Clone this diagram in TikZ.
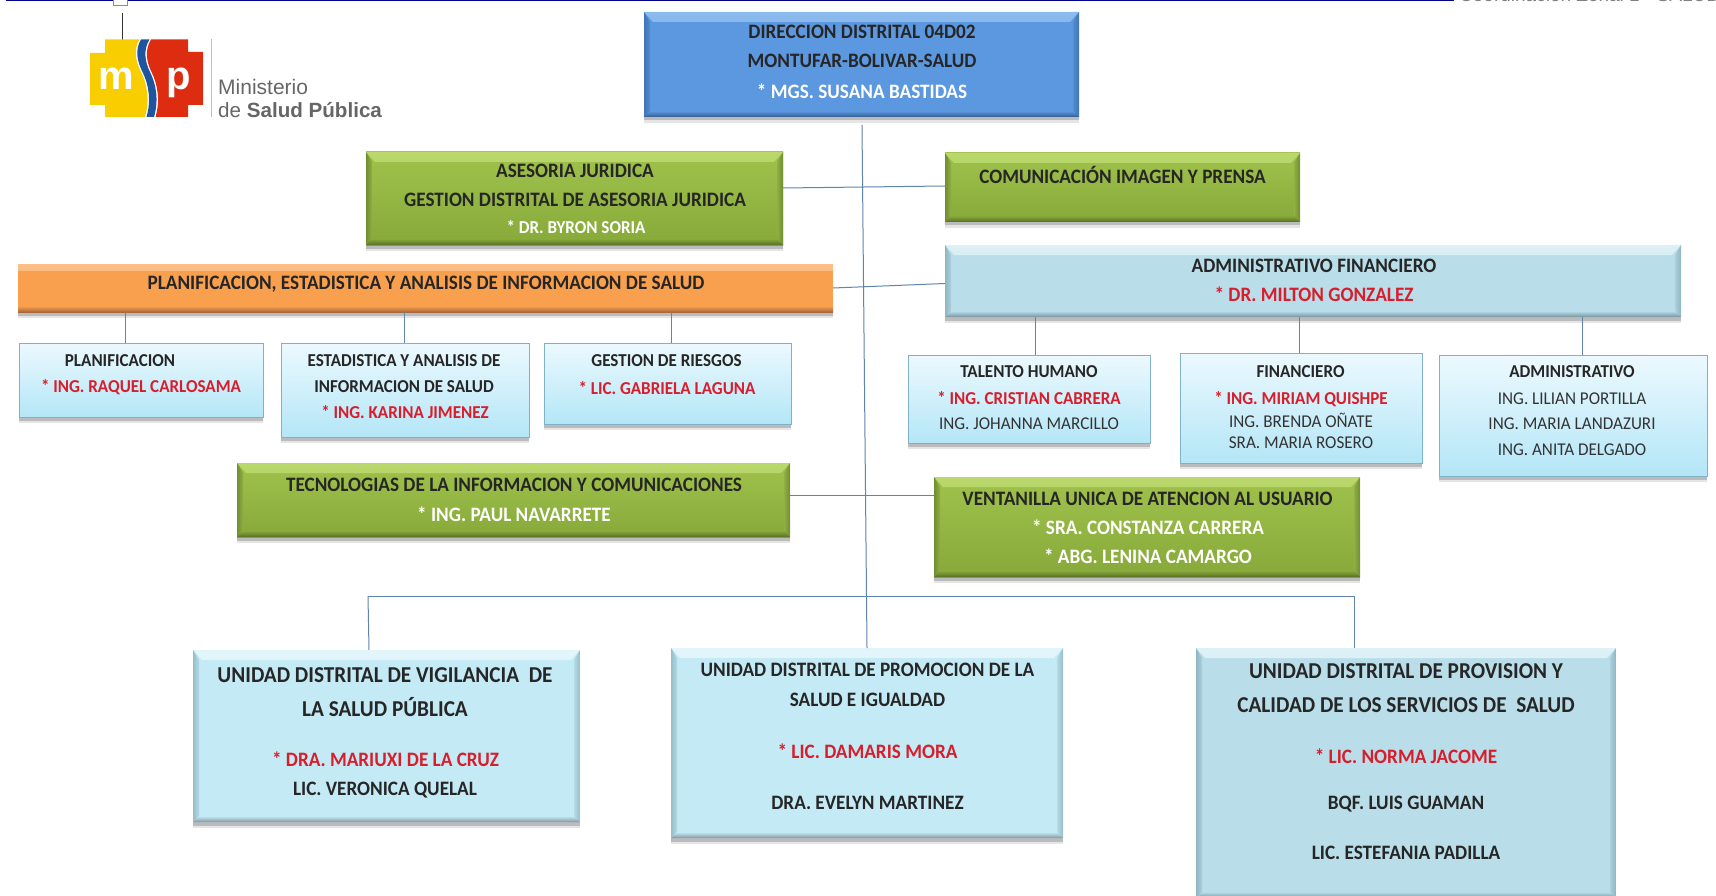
\documentclass[tikz,border=0pt]{standalone}
\usepackage{fontspec}
\setmainfont{Carlito}[BoldFont=Carlito Bold]
\newfontfamily\cond{Carlito Bold}[FakeStretch=0.936]
\newfontfamily\condreg{Carlito}[FakeStretch=0.95]
\newfontfamily\logofont{Liberation Sans}
\usetikzlibrary{shadows}
\definecolor{conn}{HTML}{5F84AE}
\definecolor{redtxt}{HTML}{D81E2C}
\definecolor{bluemain}{HTML}{5C98E0}
\definecolor{bluelight}{HTML}{8CBBEE}
\definecolor{blueside}{HTML}{4275B4}
\definecolor{bluedark}{HTML}{335C90}
\definecolor{greentop}{HTML}{BAD86C}
\definecolor{greenup}{HTML}{A0C24C}
\definecolor{greenlow}{HTML}{87A93A}
\definecolor{greenmid}{HTML}{93B543}
\definecolor{greenside}{HTML}{708E30}
\definecolor{greendark}{HTML}{566F24}
\definecolor{orangemain}{HTML}{F9A04E}
\definecolor{orangetop}{HTML}{FBC088}
\definecolor{orangedark}{HTML}{A9683A}
\definecolor{palemain}{HTML}{B9DEE9}
\definecolor{palelight}{HTML}{DDF1F6}
\definecolor{paleside}{HTML}{8FB6C3}
\definecolor{paledark}{HTML}{76959F}
\definecolor{cyanmain}{HTML}{C4EAF5}
\definecolor{cyanlight}{HTML}{E2F5FA}
\definecolor{cyanside}{HTML}{97BDCA}
\definecolor{cyandark}{HTML}{7F9BA5}
\definecolor{gradtop}{HTML}{ECF9FE}
\definecolor{gradbot}{HTML}{B4E6F7}
\definecolor{gradline}{HTML}{7FB2C6}
\definecolor{logoyel}{HTML}{F8CE00}
\definecolor{logoblu}{HTML}{1F559F}
\definecolor{logored}{HTML}{DE2C10}
\tikzset{
  x=1pt,y=-1pt,
  box/.style={draw=none,inner sep=0pt,outer sep=0pt,anchor=north west,
    drop shadow={shadow xshift=0pt,shadow yshift=-6pt,opacity=.10,fill=black},
    drop shadow={shadow xshift=0pt,shadow yshift=-3.5pt,opacity=.18,fill=black}},
  bevel/.style n args={5}{path picture={
    \shade[top color=#1,bottom color=#4] (path picture bounding box.north west) -- (path picture bounding box.north east)
      -- ++(-9pt,-10pt) -- ([xshift=9pt,yshift=-10pt]path picture bounding box.north west) -- cycle;
    \shade[left color=#2,right color=#2!35!#4] (path picture bounding box.north west) -- (path picture bounding box.south west)
      -- ++(6pt,6pt) -- ([xshift=6pt,yshift=-10pt]path picture bounding box.north west) -- cycle;
    \shade[left color=#2!35!#4,right color=#2] (path picture bounding box.north east) -- (path picture bounding box.south east)
      -- ++(-6pt,6pt) -- ([xshift=-6pt,yshift=-10pt]path picture bounding box.north east) -- cycle;
    \shade[top color=#5,bottom color=#3] (path picture bounding box.south west) -- (path picture bounding box.south east)
      -- ++(-6pt,6pt) -- ([xshift=6pt,yshift=6pt]path picture bounding box.south west) -- cycle;
  }},
  bluebox/.style={box,fill=bluemain,bevel={bluelight}{blueside}{bluedark}{bluemain}{bluemain}},
  greenbox/.style={box,top color=greenup,bottom color=greenlow,bevel={greentop}{greenside}{greendark}{greenup}{greenlow}},
  orangebox/.style={box,fill=orangemain,path picture={
    \shade[top color=orangetop,bottom color=orangemain] (path picture bounding box.north west) rectangle ([yshift=-6pt]path picture bounding box.north east);
    \shade[top color=orangemain,bottom color=orangedark] ([yshift=6pt]path picture bounding box.south west) rectangle (path picture bounding box.south east);}},
  palebox/.style={box,fill=palemain,bevel={palelight}{paleside}{paledark}{palemain}{palemain}},
  cyanbox/.style={box,fill=cyanmain,bevel={cyanlight}{cyanside}{cyandark}{cyanmain}{cyanmain}},
  gradbox/.style={box,draw=gradline,line width=1pt,top color=gradtop,bottom color=gradbot},
  tb/.style={inner sep=0pt,font=\cond\fontsize{20.5}{20}\selectfont,text=black!85},
  ts/.style={inner sep=0pt,font=\cond\fontsize{18.2}{18}\selectfont,text=black!85},
  tr/.style={inner sep=0pt,font=\condreg\fontsize{18}{18}\selectfont,text=black!80},
  tg/.style={inner sep=0pt,font=\cond\fontsize{22.7}{22}\selectfont,text=black!85},
  wh/.style={text=white},
  rd/.style={text=redtxt},
  link/.style={draw=conn,line width=1pt},
}
\begin{document}
\begin{tikzpicture}
\useasboundingbox (0,0) rectangle (1716,896);
\fill[white] (0,0) rectangle (1716,896);
% top rule and cut-off header
\fill[blue!55!black] (6,0) rectangle (1454,1.5);
\node[inner sep=0pt,anchor=base west,text=black!50,font=\logofont\fontsize{19}{19}\selectfont] (head) at (1459,2) {Coordinación Zonal 1 - SALUD};
% logo
\fill[white,draw=black!45,line width=.6pt] (113,-2) rectangle (127,5);
\draw[black!80,line width=1pt] (122.7,13) -- (122.7,41);
\fill[logoyel] (105,39.5) -- (139.5,39.5) .. controls (133,50) and (136,62) .. (141,72) .. controls (147,84) and (150,100) .. (145,117) -- (105,117) -- (105,105) -- (90,105) -- (90,53) -- (105,53) -- cycle;
\fill[logoblu] (141,39.5) -- (149.5,39.5) .. controls (143,50) and (145,62) .. (150,72) .. controls (156,84) and (159,100) .. (154,117) -- (146.5,117) .. controls (151.5,100) and (148.5,84) .. (142.5,72) .. controls (137.5,62) and (134.5,50) .. (141,39.5) -- cycle;
\fill[logored] (151,39.5) -- (188,39.5) -- (188,52) -- (203,52) -- (203,105) -- (188,105) -- (188,117) -- (155.5,117) .. controls (160.5,100) and (157.5,84) .. (151.5,72) .. controls (146.5,62) and (144.5,50) .. (151,39.5) -- cycle;
\node[inner sep=0pt,anchor=base,text=white,font=\logofont\bfseries\fontsize{40}{40}\selectfont] (lm) at (116,90) {m};
\node[inner sep=0pt,anchor=base,text=white,font=\logofont\bfseries\fontsize{40}{40}\selectfont] (lp) at (179,90) {p};
\draw[black!25,line width=1pt] (211,39) -- (211,117);
\node[inner sep=0pt,anchor=west,text=black!60,font=\logofont\fontsize{21}{21}\selectfont] (lmin) at (218,87) {Ministerio};
\node[inner sep=0pt,anchor=west,text=black!60,font=\logofont\fontsize{20.6}{21}\selectfont] (lsal) at (218,110) {de \textbf{Salud Pública}};
% boxes
\node[bluebox,minimum width=435pt,minimum height=105pt] (dir) at (644,12) {};
\node[greenbox,minimum width=417pt,minimum height=93pt] (ase) at (366,152) {};
\node[greenbox,minimum width=355pt,minimum height=69pt] (com) at (945,153) {};
\node[orangebox,minimum width=815pt,minimum height=48pt] (pla) at (18,264) {};
\node[palebox,minimum width=736pt,minimum height=72pt] (adf) at (945,245) {};
\node[gradbox,minimum width=244pt,minimum height=74pt] (p1) at (19,343) {};
\node[gradbox,minimum width=248pt,minimum height=94pt] (p2) at (281,343) {};
\node[gradbox,minimum width=247pt,minimum height=81pt] (p3) at (544,343) {};
\node[greenbox,minimum width=553pt,minimum height=74pt] (tec) at (237,463) {};
\node[gradbox,minimum width=242pt,minimum height=88pt] (a1) at (908,355) {};
\node[gradbox,minimum width=242pt,minimum height=110pt] (a2) at (1180,353) {};
\node[gradbox,minimum width=268pt,minimum height=121pt] (a3) at (1439,355) {};
\node[greenbox,minimum width=426pt,minimum height=100pt] (ven) at (934,477) {};
\node[cyanbox,minimum width=387pt,minimum height=172pt] (u1) at (193,650) {};
\node[cyanbox,minimum width=392pt,minimum height=190pt] (u2) at (671,648) {};
\node[palebox,minimum width=420pt,minimum height=250pt] (u3) at (1196,648) {};
% connectors
\coordinate (spine) at (862,125);
\coordinate (busL) at (368,596);
\coordinate (busR) at (1354,596);
\draw[link] (spine) -- (u2.north -| 867,0);
\draw[link] (ase.east |- 0,188) -- (com.west |- 0,186);
\draw[link] (pla.east) -- (adf.west |- 0,283.5);
\draw[link] (tec.east |- 0,495) -- (ven.west |- 0,495);
\draw[link] (busL) -- (busR);
\draw[link] (busL) -- (u1.north -| 369,0);
\draw[link] (busR) -- (u3.north -| 1354,0);
\draw[link] (pla.south -| 125.5,0) -- (p1.north -| 125.5,0);
\draw[link] (pla.south -| 404.5,0) -- (p2.north -| 404.5,0);
\draw[link] (pla.south -| 671,0) -- (p3.north -| 671,0);
\draw[link] (adf.south -| 1035.5,0) -- (a1.north -| 1035.5,0);
\draw[link] (adf.south -| 1299.5,0) -- (a2.north -| 1299.5,0);
\draw[link] (adf.south -| 1582.5,0) -- (a3.north -| 1582.5,0);
% texts
\node[tb] (t1) at (862,32) {DIRECCION DISTRITAL 04D02};
\node[tb] (t2) at (862,61) {MONTUFAR-BOLIVAR-SALUD};
\node[tb,wh] (t3) at (862,91.5) {* MGS. SUSANA BASTIDAS};
\node[tb] (t4) at (575,170.5) {ASESORIA JURIDICA};
\node[tb] (t5) at (575,199.5) {GESTION DISTRITAL DE ASESORIA JURIDICA};
\node[ts,wh] (t6) at (576,227.5) {* DR. BYRON SORIA};
\node[tb] (t7) at (1122.5,174.5) {COMUNICACIÓN IMAGEN Y PRENSA};
\node[tb] (t8) at (426,284.5) {PLANIFICACION, ESTADISTICA Y ANALISIS DE INFORMACION DE SALUD};
\node[tb] (t9) at (1314,266) {ADMINISTRATIVO FINANCIERO};
\node[tb,rd] (t10) at (1314,294.5) {* DR. MILTON GONZALEZ};
\node[ts] (t11) at (120,361) {PLANIFICACION};
\node[ts,rd] (t12) at (141,387) {* ING. RAQUEL CARLOSAMA};
\node[ts] (t13) at (404,361) {ESTADISTICA Y ANALISIS DE};
\node[ts] (t14) at (404,387) {INFORMACION DE SALUD};
\node[ts,rd] (t15) at (405,412) {* ING. KARINA JIMENEZ};
\node[ts] (t16) at (666.5,361) {GESTION DE RIESGOS};
\node[ts,rd] (t17) at (667,388) {* LIC. GABRIELA LAGUNA};
\node[tb] (t18) at (514,485) {TECNOLOGIAS DE LA INFORMACION Y COMUNICACIONES};
\node[tb,wh] (t19) at (514,514) {* ING. PAUL NAVARRETE};
\node[ts] (t20) at (1029,372) {TALENTO HUMANO};
\node[ts,rd] (t21) at (1029,398.5) {* ING. CRISTIAN CABRERA};
\node[tr] (t22) at (1029,424) {ING. JOHANNA MARCILLO};
\node[ts] (t23) at (1300.5,371.5) {FINANCIERO};
\node[ts,rd] (t24) at (1301,399) {* ING. MIRIAM QUISHPE};
\node[tr] (t25) at (1301,420) {ING. BRENDA OÑATE};
\node[tr] (t26) at (1301,443) {SRA. MARIA ROSERO};
\node[ts] (t27) at (1572,372) {ADMINISTRATIVO};
\node[tr] (t28) at (1572,399) {ING. LILIAN PORTILLA};
\node[tr] (t29) at (1572,424) {ING. MARIA LANDAZURI};
\node[tr] (t30) at (1572,449.5) {ING. ANITA DELGADO};
\node[tb] (t31) at (1147.5,499) {VENTANILLA UNICA DE ATENCION AL USUARIO};
\node[tb,wh] (t32) at (1148,527) {* SRA. CONSTANZA CARRERA};
\node[tb,wh] (t33) at (1148,556) {* ABG. LENINA CAMARGO};
\node[tg] (t34) at (385,675) {UNIDAD DISTRITAL DE VIGILANCIA~~DE};
\node[tg] (t35) at (385,707) {LA SALUD PÚBLICA};
\node[tb,rd] (t36) at (385.5,759) {* DRA. MARIUXI DE LA CRUZ};
\node[tb] (t37) at (385,790) {LIC. VERONICA QUELAL};
\node[tb] (t38) at (867.5,670) {UNIDAD DISTRITAL DE PROMOCION DE LA};
\node[tb] (t39) at (867.5,700) {SALUD E IGUALDAD};
\node[tb,rd] (t40) at (867.5,751) {* LIC. DAMARIS MORA};
\node[tb] (t41) at (867.5,803) {DRA. EVELYN MARTINEZ};
\node[tg] (t42) at (1406,671) {UNIDAD DISTRITAL DE PROVISION Y};
\node[tg] (t43) at (1406,705.5) {CALIDAD DE LOS SERVICIOS DE~~SALUD};
\node[tb,rd] (t44) at (1406,756) {* LIC. NORMA JACOME};
\node[tb] (t45) at (1406,804.5) {BQF. LUIS GUAMAN};
\node[tb] (t46) at (1406,852.5) {LIC. ESTEFANIA PADILLA};
\end{tikzpicture}
\end{document}
